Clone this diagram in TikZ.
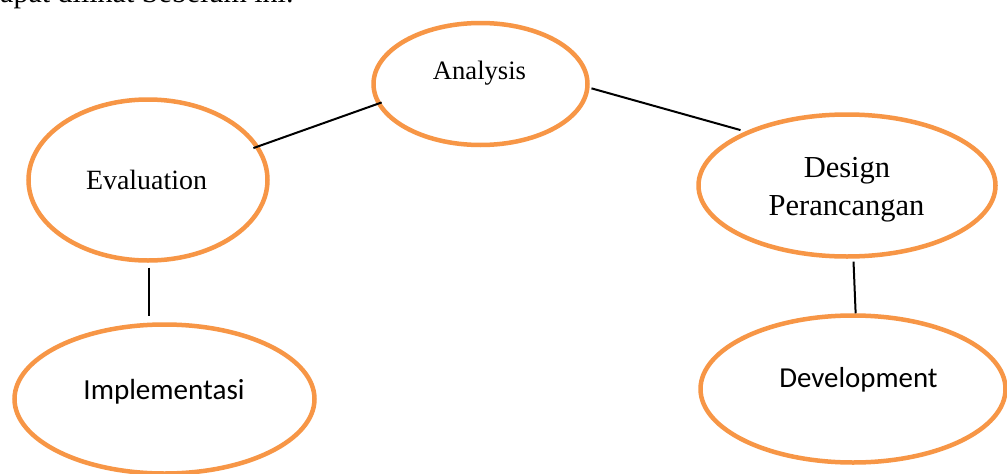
\documentclass[tikz,border=0pt]{standalone}
\usepackage{fontspec}
\setmainfont{Liberation Serif}
\newfontfamily\carlito{Carlito}
\usetikzlibrary{shapes.geometric}
\definecolor{ringorange}{HTML}{F79646}
\tikzset{
  phase/.style={ellipse, draw=ringorange, line width=4.5pt, fill=white, inner sep=0pt},
  lbl/.style={anchor=base, inner sep=0pt, text=black},
  link/.style={draw=black, line width=2pt}
}
\begin{document}
\begin{tikzpicture}[x=1pt,y=-1pt]
\useasboundingbox (0,0) rectangle (1007,474);
\clip (0,0) rectangle (1007,474);
\fill[white] (0,0) rectangle (1007,474);
\node[anchor=base west, inner sep=0pt] (top) at (0,2) {\fontsize{30}{36}\selectfont apat dilihat Sebelum ini.};
% ellipses
\node[phase, minimum width=214pt, minimum height=122pt] (ana) at (480.5,84) {};
\node[phase, minimum width=239pt, minimum height=161pt] (eva) at (148,180) {};
\node[phase, minimum width=297pt, minimum height=142pt] (des) at (847,185.5) {};
\node[phase, minimum width=305pt, minimum height=147pt] (dev) at (853,389) {};
\node[phase, minimum width=300pt, minimum height=149pt] (imp) at (164.5,399) {};
% labels
\node[lbl] (tana) at (479.5,79) {\fontsize{26.6}{32}\selectfont Analysis};
\node[lbl] (teva) at (146.5,189) {\fontsize{27.9}{33}\selectfont Evaluation};
\node[lbl] (tdes) at (847,177) {\fontsize{30.5}{36}\selectfont Design};
\node[lbl] (tper) at (846.5,215) {\fontsize{30.5}{36}\selectfont Perancangan};
\node[lbl] (tdev) at (858.5,387) {\carlito\fontsize{28.9}{34}\selectfont Development};
\node[lbl] (timp) at (164,399) {\carlito\fontsize{29.1}{35}\selectfont Implementasi};
% connectors
\draw[link, shorten <=-6pt, shorten >=-5pt] (eva.17) -- (ana.191);
\draw[link, shorten <=2pt, shorten >=5pt] (ana.-2) -- (des.152);
\draw[link, shorten <=5pt, shorten >=6pt] (eva.-89) -- (eva.-89 |- imp.north);
\draw[link, shorten <=3pt] (des.-85.5) -- (dev.88);
\end{tikzpicture}
\end{document}
